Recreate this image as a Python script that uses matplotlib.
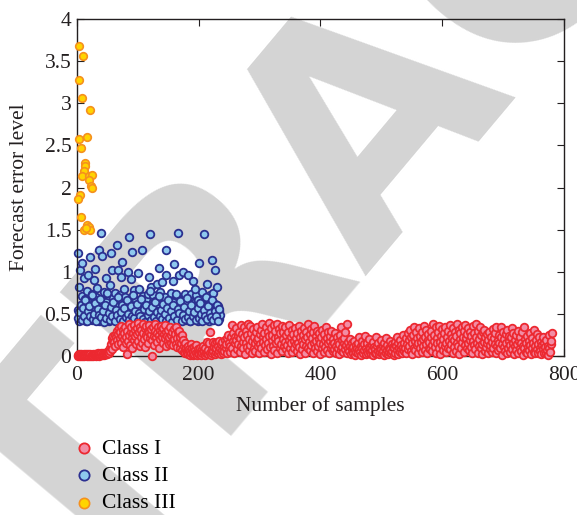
import matplotlib
matplotlib.use("Agg")
import matplotlib.pyplot as plt
import numpy as np

plt.rcParams['font.family'] = ['Liberation Serif', 'DejaVu Serif']

# Class I: one value per sample, samples 1..780
class1_y = [
    0.01, 0.00, 0.02, 0.01, 0.00, 0.01, 0.02, 0.01, 0.00, 0.01, 0.02, 0.00, 0.01, 0.01, 0.02, 0.00, 0.01, 0.02, 0.01, 0.00,
    0.01, 0.02, 0.00, 0.01, 0.01, 0.02, 0.00, 0.01, 0.02, 0.01, 0.00, 0.02, 0.01, 0.03, 0.01, 0.00, 0.02, 0.01, 0.02, 0.03,
    0.01, 0.02, 0.03, 0.01, 0.02, 0.04, 0.02, 0.03, 0.05, 0.02, 0.04, 0.07, 0.03, 0.10, 0.06, 0.14, 0.21, 0.08, 0.18, 0.24,
    0.17, 0.25, 0.12, 0.22, 0.30, 0.19, 0.26, 0.14, 0.33, 0.21, 0.28, 0.16, 0.36, 0.24, 0.11, 0.31, 0.20, 0.27, 0.35, 0.15,
    0.22, 0.02, 0.30, 0.18, 0.38, 0.25, 0.13, 0.29, 0.34, 0.21, 0.09, 0.27, 0.37, 0.19, 0.31, 0.24, 0.14, 0.33, 0.26, 0.39,
    0.18, 0.29, 0.12, 0.35, 0.23, 0.31, 0.16, 0.27, 0.38, 0.20, 0.33, 0.11, 0.25, 0.36, 0.22, 0.30, 0.15, 0.28, 0.37, 0.21,
    0.26, 0.32, 0.00, 0.19, 0.35, 0.24, 0.13, 0.30, 0.38, 0.22, 0.27, 0.17, 0.34, 0.25, 0.10, 0.31, 0.20, 0.36, 0.23, 0.29,
    0.16, 0.33, 0.26, 0.21, 0.37, 0.12, 0.28, 0.24, 0.18, 0.31, 0.14, 0.22, 0.35, 0.15, 0.25, 0.29, 0.19, 0.13, 0.32, 0.20,
    0.26, 0.14, 0.34, 0.21, 0.11, 0.28, 0.17, 0.30, 0.09, 0.23, 0.15, 0.25, 0.07, 0.19, 0.12, 0.05, 0.16, 0.03, 0.10, 0.06,
    0.04, 0.12, 0.02, 0.08, 0.01, 0.06, 0.14, 0.03, 0.09, 0.01, 0.05, 0.11, 0.02, 0.07, 0.04, 0.13, 0.01, 0.08, 0.03, 0.06,
    0.02, 0.10, 0.05, 0.01, 0.08, 0.03, 0.12, 0.04, 0.06, 0.01, 0.09, 0.03, 0.17, 0.05, 0.02, 0.07, 0.16, 0.04, 0.29, 0.01,
    0.08, 0.03, 0.17, 0.06, 0.11, 0.02, 0.15, 0.05, 0.09, 0.17, 0.03, 0.12, 0.06, 0.18, 0.10, 0.02, 0.14, 0.07, 0.17, 0.04,
    0.11, 0.06, 0.19, 0.09, 0.14, 0.03, 0.21, 0.25, 0.08, 0.16, 0.12, 0.05, 0.22, 0.37, 0.10, 0.18, 0.27, 0.04, 0.15, 0.23,
    0.19, 0.33, 0.08, 0.24, 0.14, 0.29, 0.05, 0.21, 0.37, 0.12, 0.26, 0.17, 0.09, 0.35, 0.22, 0.02, 0.16, 0.30, 0.11, 0.25,
    0.38, 0.07, 0.20, 0.13, 0.36, 0.27, 0.04, 0.18, 0.32, 0.10, 0.23, 0.15, 0.06, 0.28, 0.19, 0.34, 0.12, 0.21, 0.03, 0.26,
    0.14, 0.31, 0.09, 0.38, 0.22, 0.17, 0.05, 0.27, 0.13, 0.35, 0.20, 0.08, 0.29, 0.16, 0.24, 0.39, 0.11, 0.02, 0.33, 0.19,
    0.25, 0.12, 0.37, 0.07, 0.21, 0.30, 0.15, 0.38, 0.04, 0.23, 0.18, 0.32, 0.10, 0.27, 0.14, 0.36, 0.06, 0.20, 0.29, 0.12,
    0.17, 0.34, 0.08, 0.25, 0.13, 0.03, 0.28, 0.19, 0.37, 0.10, 0.22, 0.15, 0.31, 0.05, 0.26, 0.18, 0.09, 0.33, 0.21, 0.14,
    0.06, 0.27, 0.16, 0.36, 0.11, 0.23, 0.02, 0.30, 0.18, 0.08, 0.25, 0.14, 0.33, 0.20, 0.04, 0.29, 0.12, 0.22, 0.38, 0.09,
    0.17, 0.26, 0.07, 0.32, 0.13, 0.21, 0.03, 0.28, 0.15, 0.36, 0.10, 0.24, 0.18, 0.06, 0.30, 0.12, 0.20, 0.27, 0.02, 0.16,
    0.23, 0.09, 0.31, 0.14, 0.05, 0.26, 0.19, 0.11, 0.34, 0.07, 0.21, 0.15, 0.28, 0.03, 0.18, 0.24, 0.10, 0.30, 0.13, 0.06,
    0.20, 0.08, 0.16, 0.27, 0.04, 0.12, 0.22, 0.09, 0.17, 0.02, 0.14, 0.25, 0.34, 0.07, 0.19, 0.11, 0.05, 0.15, 0.21, 0.08,
    0.28, 0.13, 0.03, 0.38, 0.10, 0.17, 0.06, 0.12, 0.20, 0.02, 0.09, 0.15, 0.04, 0.11, 0.18, 0.07, 0.01, 0.13, 0.05, 0.10,
    0.16, 0.03, 0.08, 0.22, 0.05, 0.12, 0.01, 0.09, 0.18, 0.04, 0.14, 0.07, 0.24, 0.02, 0.10, 0.06, 0.15, 0.03, 0.11, 0.20,
    0.05, 0.09, 0.02, 0.13, 0.07, 0.17, 0.01, 0.11, 0.04, 0.08, 0.23, 0.03, 0.12, 0.06, 0.15, 0.02, 0.10, 0.05, 0.19, 0.08,
    0.03, 0.12, 0.06, 0.01, 0.16, 0.09, 0.04, 0.21, 0.07, 0.13, 0.02, 0.10, 0.05, 0.18, 0.08, 0.03, 0.14, 0.06, 0.11, 0.01,
    0.09, 0.17, 0.04, 0.12, 0.07, 0.23, 0.02, 0.15, 0.10, 0.05, 0.19, 0.08, 0.13, 0.03, 0.25, 0.11, 0.06, 0.16, 0.09, 0.21,
    0.04, 0.14, 0.27, 0.08, 0.19, 0.12, 0.31, 0.06, 0.22, 0.16, 0.02, 0.25, 0.10, 0.35, 0.18, 0.07, 0.28, 0.13, 0.21, 0.04,
    0.15, 0.33, 0.09, 0.24, 0.17, 0.05, 0.29, 0.20, 0.12, 0.36, 0.07, 0.23, 0.14, 0.31, 0.03, 0.19, 0.26, 0.10, 0.17, 0.08,
    0.22, 0.30, 0.13, 0.06, 0.38, 0.18, 0.25, 0.11, 0.34, 0.04, 0.21, 0.15, 0.28, 0.09, 0.36, 0.17, 0.02, 0.24, 0.13, 0.32,
    0.07, 0.20, 0.27, 0.12, 0.35, 0.16, 0.05, 0.23, 0.30, 0.10, 0.18, 0.37, 0.08, 0.26, 0.14, 0.21, 0.03, 0.33, 0.19, 0.11,
    0.28, 0.06, 0.24, 0.16, 0.38, 0.12, 0.31, 0.02, 0.20, 0.27, 0.09, 0.35, 0.17, 0.23, 0.05, 0.30, 0.13, 0.37, 0.21, 0.10,
    0.26, 0.15, 0.33, 0.07, 0.19, 0.29, 0.11, 0.24, 0.04, 0.36, 0.18, 0.13, 0.27, 0.08, 0.22, 0.38, 0.16, 0.03, 0.30, 0.12,
    0.20, 0.34, 0.09, 0.25, 0.14, 0.02, 0.28, 0.17, 0.31, 0.06, 0.22, 0.11, 0.26, 0.15, 0.04, 0.19, 0.29, 0.08, 0.13, 0.23,
    0.05, 0.17, 0.32, 0.10, 0.21, 0.14, 0.27, 0.03, 0.35, 0.12, 0.19, 0.07, 0.25, 0.16, 0.09, 0.34, 0.22, 0.01, 0.14, 0.28,
    0.11, 0.20, 0.06, 0.26, 0.15, 0.03, 0.31, 0.09, 0.18, 0.24, 0.13, 0.05, 0.22, 0.33, 0.08, 0.16, 0.27, 0.02, 0.12, 0.19,
    0.07, 0.25, 0.14, 0.30, 0.04, 0.18, 0.10, 0.22, 0.06, 0.16, 0.28, 0.01, 0.12, 0.35, 0.09, 0.20, 0.05, 0.15, 0.24, 0.03,
    0.11, 0.18, 0.07, 0.27, 0.13, 0.02, 0.21, 0.09, 0.16, 0.05, 0.31, 0.12, 0.04, 0.19, 0.26, 0.08, 0.14, 0.03, 0.23, 0.10,
    0.06, 0.17, 0.02, 0.13, 0.22, 0.08, 0.04, 0.15, 0.11, 0.03, 0.19, 0.07, 0.12, 0.01, 0.09, 0.25, 0.05, 0.14, 0.18, 0.27,
]

# Class II: samples 1..235
class2_y = [
    1.22, 0.55, 0.82, 0.42, 1.02, 0.60, 0.48, 0.71, 1.10, 0.44, 0.58, 0.93, 0.51, 0.68, 0.41, 0.77, 0.53, 0.96, 0.46, 0.63,
    0.49, 1.18, 0.57, 0.74, 0.43, 0.62, 0.52, 0.90, 1.03, 0.45, 0.70, 0.56, 0.81, 0.47, 0.61, 1.26, 0.42, 0.54, 1.46, 0.66,
    1.19, 0.50, 0.59, 0.43, 0.76, 0.55, 0.64, 0.93, 0.46, 0.52, 0.72, 0.41, 0.58, 0.84, 0.48, 1.22, 1.02, 0.60, 0.44, 0.69,
    0.53, 0.47, 0.75, 0.57, 1.32, 0.42, 1.02, 0.62, 0.50, 0.73, 0.45, 0.66, 0.94, 1.12, 0.54, 0.61, 0.80, 0.48, 0.70, 0.43,
    0.59, 0.51, 0.65, 1.00, 1.41, 0.46, 0.56, 0.92, 0.63, 0.44, 1.23, 0.52, 0.78, 0.48, 0.60, 0.41, 0.67, 0.55, 0.47, 0.98,
    0.53, 0.79, 0.45, 0.64, 0.58, 0.42, 1.26, 0.71, 0.50, 0.61, 0.47, 0.56, 0.68, 0.43, 0.52, 0.74, 0.49, 0.94, 0.57, 1.45,
    0.82, 0.46, 0.60, 0.51, 0.72, 0.44, 0.55, 0.65, 0.41, 0.58, 0.85, 0.48, 0.62, 1.05, 0.53, 0.76, 0.45, 0.69, 0.88, 0.50,
    0.57, 0.43, 0.63, 0.52, 0.70, 1.26, 0.96, 0.47, 0.59, 0.42, 0.66, 0.54, 0.48, 0.75, 0.61, 0.45, 0.89, 0.53, 0.64, 1.09,
    0.50, 0.58, 0.44, 0.71, 0.55, 1.46, 0.47, 0.96, 0.62, 0.41, 0.53, 0.67, 0.49, 1.00, 0.57, 0.45, 0.74, 0.60, 0.43, 0.52,
    0.65, 0.48, 0.96, 0.56, 0.42, 0.70, 0.51, 0.74, 0.59, 0.46, 0.89, 0.54, 0.63, 0.44, 0.72, 0.50, 0.58, 0.41, 0.67, 0.53,
    1.10, 0.47, 0.61, 0.55, 0.43, 0.76, 0.52, 0.64, 1.45, 0.49, 0.57, 0.45, 0.69, 0.86, 0.53, 0.60, 0.42, 0.73, 0.50, 0.56,
    1.14, 0.48, 0.75, 0.58, 0.45, 0.62, 1.02, 0.51, 0.55, 0.82, 0.47, 0.59, 0.44, 0.53, 0.49,
]
# second Class II point on every even sample 2..234 (the dense 0.4-0.7 band)
class2b_y = [
    0.45, 0.52, 0.61, 0.43, 0.57, 0.48, 0.66, 0.41, 0.54, 0.59,
    0.47, 0.72, 0.44, 0.50, 0.63, 0.42, 0.56, 0.49, 0.68, 0.46,
    0.53, 0.40, 0.60, 0.45, 0.75, 0.51, 0.43, 0.58, 0.47, 0.64,
    0.42, 0.55, 0.49, 0.70, 0.44, 0.52, 0.61, 0.41, 0.57, 0.46,
    0.66, 0.50, 0.43, 0.59, 0.48, 0.73, 0.45, 0.54, 0.62, 0.42,
    0.51, 0.47, 0.68, 0.44, 0.56, 0.40, 0.60, 0.49, 0.53, 0.77,
    0.43, 0.58, 0.46, 0.64, 0.41, 0.52, 0.71, 0.48, 0.55, 0.44,
    0.62, 0.50, 0.42, 0.57, 0.67, 0.45, 0.53, 0.40, 0.60, 0.47,
    0.74, 0.43, 0.56, 0.51, 0.65, 0.42, 0.49, 0.58, 0.44, 0.69,
    0.46, 0.54, 0.41, 0.61, 0.48, 0.52, 0.79, 0.43, 0.57, 0.45,
    0.63, 0.50, 0.42, 0.55, 0.47, 0.70, 0.44, 0.59, 0.51, 0.46,
    0.66, 0.43, 0.53, 0.48, 0.60, 0.41, 0.56,
]

# Class III: (sample, value) pairs
class3_x = [4, 10, 3, 9, 21, 3, 16, 7, 13, 14, 11, 8, 20, 25, 20, 23, 25, 5, 1, 7, 17, 20, 12, 22, 15]
class3_y = [3.68, 3.56, 3.28, 3.06, 2.92, 2.58, 2.60, 2.47, 2.29, 2.26, 2.20, 2.14, 2.14, 2.15, 2.09,
            2.02, 1.99, 1.91, 1.86, 1.65, 1.56, 1.53, 1.49, 1.49, 1.52]

labels = ['Class I', 'Class II', 'Class III']

fig = plt.figure(figsize=(5.77, 5.15), dpi=100)
fig.patch.set_facecolor('white')

# grey watermark, drawn under the axes
fig.text(0.64, 0.79, 'RETRACTED', family='DejaVu Sans', fontweight='bold', fontsize=220,
         color='#d4d4d4', rotation=50, ha='center', va='center', rotation_mode='anchor', zorder=0)

ax = fig.add_axes([0.1334, 0.3087, 0.844, 0.6544])
ax.set_facecolor('none')
ax.set_zorder(1)

ms = 30
c2_x = np.concatenate([np.arange(1, len(class2_y) + 1), np.arange(2, 2 * len(class2b_y) + 1, 2)])
c2_y = np.concatenate([class2_y, class2b_y])

ax.scatter(np.arange(1, len(class1_y) + 1), class1_y, s=ms, facecolor='#f28ca4', edgecolor='#ec2830',
           linewidth=1.3, clip_on=False, zorder=3, label=labels[0])
ax.scatter(c2_x, c2_y, s=ms, facecolor='#8ec8ee', edgecolor='#2b3090',
           linewidth=1.3, clip_on=False, zorder=2, label=labels[1])
ax.scatter(class3_x, class3_y, s=ms, facecolor='#ffd400', edgecolor='#f5901e',
           linewidth=1.2, clip_on=False, zorder=4, label=labels[2])

ax.set_xlim(0, 800)
ax.set_ylim(0, 4)
ax.set_xticks([0, 200, 400, 600, 800])
ax.set_yticks([0, 0.5, 1, 1.5, 2, 2.5, 3, 3.5, 4])
ax.set_yticklabels(['0', '0.5', '1', '1.5', '2', '2.5', '3', '3.5', '4'])
ax.tick_params(direction='in', top=True, right=True, length=5, width=0.8, labelsize=15.5,
               colors='#231f20', pad=4)
ax.tick_params(axis='x', pad=7)
for sp in ax.spines.values():
    sp.set_linewidth(1.0)
    sp.set_color('#231f20')

ax.set_xlabel('Number of samples', fontsize=15.5, color='#231f20', labelpad=8)
ax.set_ylabel('Forecast error level', fontsize=15.5, color='#231f20', labelpad=11)

handles, _ = ax.get_legend_handles_labels()
fig.legend(handles, labels, loc='upper left', bbox_to_anchor=(0.13, 0.148), bbox_transform=fig.transFigure,
           frameon=False, fontsize=15.5, handletextpad=0.45, labelspacing=0.33, markerscale=1.35,
           handlelength=0.8, borderaxespad=0, borderpad=0)

fig.savefig('out.png', dpi=100)
